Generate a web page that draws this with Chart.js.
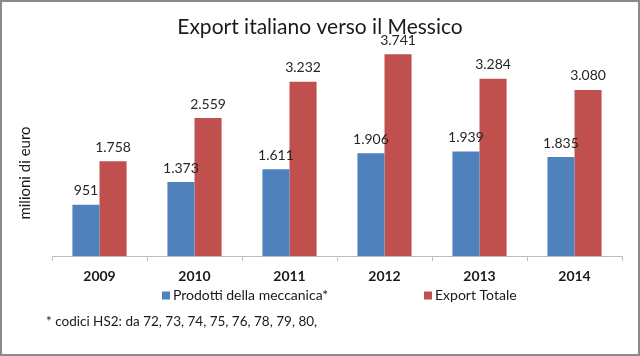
<!DOCTYPE html>
<html>
<head>
<meta charset="utf-8">
<script src="https://cdn.jsdelivr.net/npm/chart.js@4"></script>
<style>
html,body{margin:0;padding:0;background:#fff;}
#wrap{width:640px;height:356px;position:relative;}
</style>
</head>
<body>
<div id="wrap"><canvas id="c" width="640" height="356"></canvas></div>
<script>
const categories = ['2009', '2010', '2011', '2012', '2013', '2014'];
const meccanica = [951, 1373, 1611, 1906, 1939, 1835];
const exportTotale = [1758, 2559, 3232, 3741, 3284, 3080];
const seriesNames = ['Prodotti della meccanica*', 'Export Totale'];
const titleText = 'Export italiano verso il Messico';
const yAxisTitle = 'milioni di euro';
const footnote = '* codici HS2: da 72, 73, 74, 75, 76, 78, 79, 80,';

const FONT = 'Lato, "Open Sans", sans-serif';

function fmt(v) {
  return String(v).replace(/\B(?=(\d{3})+(?!\d))/g, '.');
}

const labelsPlugin = {
  id: 'valueLabels',
  afterDatasetsDraw(chart) {
    const ctx = chart.ctx;
    ctx.save();
    ctx.font = '14px ' + FONT;
    ctx.fillStyle = '#262626';
    ctx.textAlign = 'center';
    ctx.textBaseline = 'middle';
    chart.data.datasets.forEach((ds, i) => {
      chart.getDatasetMeta(i).data.forEach((bar, j) => {
        ctx.fillText(fmt(ds.data[j]), bar.x, bar.y - 14);
      });
    });
    ctx.restore();
  }
};

const extrasPlugin = {
  id: 'extras',
  afterDraw(chart) {
    const ctx = chart.ctx;
    ctx.save();
    // y axis title
    ctx.save();
    ctx.translate(25, 173);
    ctx.rotate(-Math.PI / 2);
    ctx.font = '15px ' + FONT;
    ctx.fillStyle = '#1a1a1a';
    ctx.textAlign = 'center';
    ctx.textBaseline = 'middle';
    ctx.fillText(yAxisTitle, 0, 0);
    ctx.restore();
    // legend
    const legendY = 295.5;
    const itemX = [162, 424];
    ctx.font = '14px ' + FONT;
    ctx.textBaseline = 'middle';
    ctx.textAlign = 'left';
    chart.data.datasets.forEach((ds, i) => {
      ctx.fillStyle = ds.backgroundColor;
      ctx.fillRect(itemX[i], legendY - 4, 8, 8);
      ctx.fillStyle = '#1a1a1a';
      ctx.fillText(ds.label, itemX[i] + 11, legendY);
    });
    // footnote
    ctx.font = '13.5px ' + FONT;
    ctx.fillStyle = '#1a1a1a';
    ctx.fillText(footnote, 46, 322);
    // outer border
    ctx.strokeStyle = '#8a8a8a';
    ctx.lineWidth = 2;
    ctx.strokeRect(1, 1, 638, 354);
    ctx.restore();
  }
};

new Chart(document.getElementById('c'), {
  type: 'bar',
  data: {
    labels: categories,
    datasets: [
      { label: seriesNames[0], data: meccanica, backgroundColor: '#4F81BD', borderWidth: 0 },
      { label: seriesNames[1], data: exportTotale, backgroundColor: '#C0504D', borderWidth: 0 }
    ]
  },
  options: {
    responsive: false,
    animation: false,
    devicePixelRatio: 1,
    layout: { padding: { left: 18, right: 18, top: 0, bottom: 64 } },
    datasets: { bar: { categoryPercentage: 0.57, barPercentage: 1 } },
    plugins: {
      legend: { display: false },
      tooltip: { enabled: false },
      title: {
        display: true,
        text: titleText,
        color: '#1a1a1a',
        font: { family: FONT, size: 21, weight: 'normal' },
        padding: { top: 15, bottom: 0 }
      }
    },
    scales: {
      x: {
        grid: { display: true, drawOnChartArea: false, drawTicks: true, tickLength: 5, color: '#bfbfbf', offset: true },
        border: { display: true, color: '#bfbfbf', width: 1 },
        ticks: { color: '#1a1a1a', font: { family: FONT, size: 14, weight: 'bold' }, padding: 7 }
      },
      y: {
        display: true,
        min: 0,
        max: 4000,
        grid: { display: false, drawTicks: false },
        border: { display: false },
        ticks: { display: false },
        afterFit(scale) { scale.width = 34; }
      }
    }
  },
  plugins: [labelsPlugin, extrasPlugin]
});
</script>
</body>
</html>
